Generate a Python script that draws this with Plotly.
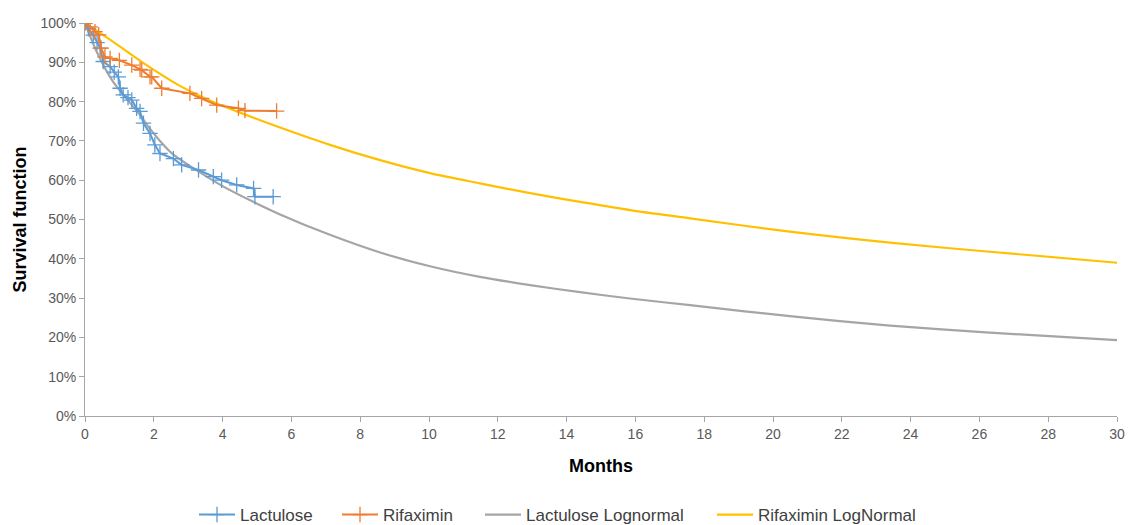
import plotly.graph_objects as go

# Kaplan-Meier: Lactulose
lac_months = [0, 0.1, 0.24, 0.35, 0.44, 0.53, 0.73, 0.85, 0.97, 1.02, 1.11, 1.25, 1.36, 1.5, 1.6, 1.7, 1.89, 2.03, 2.18, 2.57, 2.81, 3.3, 3.73, 3.97, 4.41, 4.9, 4.94, 5.47]
lac_surv = [1.0, 0.985, 0.969, 0.95, 0.936, 0.902, 0.889, 0.875, 0.863, 0.834, 0.817, 0.81, 0.804, 0.783, 0.775, 0.745, 0.719, 0.69, 0.668, 0.655, 0.639, 0.626, 0.609, 0.60, 0.588, 0.579, 0.558, 0.558]

# Kaplan-Meier: Rifaximin
rif_months = [0, 0.15, 0.29, 0.4, 0.47, 0.58, 0.73, 1.0, 1.36, 1.6, 1.65, 1.89, 1.94, 2.23, 3.05, 3.39, 3.83, 4.46, 4.65, 5.57]
rif_surv = [1.0, 0.99, 0.978, 0.97, 0.936, 0.914, 0.91, 0.905, 0.893, 0.882, 0.88, 0.863, 0.863, 0.834, 0.821, 0.808, 0.791, 0.783, 0.777, 0.776]

# Lognormal fits
lacln_months = [0, 0.34, 0.82, 1.6, 1.79, 2.18, 2.57, 3.25, 4.0, 4.89, 5.67, 7.12, 8.58, 10.03, 11.48, 12.94, 14.39, 15.84, 17.59, 20.49, 23.4, 26.3, 30]
lacln_surv = [1.0, 0.927, 0.85, 0.766, 0.742, 0.70, 0.665, 0.625, 0.585, 0.545, 0.513, 0.461, 0.416, 0.381, 0.354, 0.333, 0.315, 0.299, 0.282, 0.254, 0.23, 0.212, 0.193]

rifln_months = [0, 0.82, 1.79, 2.76, 3.25, 3.83, 4.5, 5.67, 7.12, 8.58, 10.03, 11.48, 12.94, 14.39, 15.84, 17.59, 20.49, 23.4, 26.3, 30]
rifln_surv = [1.0, 0.952, 0.893, 0.84, 0.818, 0.795, 0.772, 0.734, 0.69, 0.651, 0.618, 0.592, 0.567, 0.545, 0.524, 0.503, 0.469, 0.441, 0.418, 0.39]

x_ticks = list(range(0, 31, 2))
y_ticks = [i / 10 for i in range(0, 11)]

BLUE = "#5B9BD5"
ORANGE = "#ED7D31"
GRAY = "#A5A5A5"
GOLD = "#FFC000"
FONT = "Liberation Sans"
W, H = 1128, 525

fig = go.Figure()
fig.add_trace(go.Scatter(x=lacln_months, y=lacln_surv, mode="lines", name="Lactulose Lognormal",
                         line=dict(color=GRAY, width=2.2, shape="spline", smoothing=0.8), legend="legend3"))
fig.add_trace(go.Scatter(x=rifln_months, y=rifln_surv, mode="lines", name="Rifaximin LogNormal",
                         line=dict(color=GOLD, width=2.2, shape="spline", smoothing=0.8), legend="legend4"))
fig.add_trace(go.Scatter(x=lac_months, y=lac_surv, mode="lines+markers", name="Lactulose",
                         line=dict(color=BLUE, width=2),
                         marker=dict(symbol="cross-thin", size=11, line=dict(color=BLUE, width=1.3)),
                         legend="legend"))
fig.add_trace(go.Scatter(x=rif_months, y=rif_surv, mode="lines+markers", name="Rifaximin",
                         line=dict(color=ORANGE, width=2),
                         marker=dict(symbol="cross-thin", size=11, line=dict(color=ORANGE, width=1.3)),
                         legend="legend2"))


def leg(px_left):
    return dict(orientation="h", xref="container", yref="container",
                x=(px_left - 8) / W, xanchor="left", y=(H - 515) / H, yanchor="middle",
                font=dict(family=FONT, size=17, color="#404040"),
                itemwidth=36, bgcolor="rgba(0,0,0,0)")


fig.update_layout(
    width=W, height=H,
    margin=dict(l=85, r=11, t=23, b=109),
    plot_bgcolor="white", paper_bgcolor="white",
    font=dict(family=FONT, size=14, color="#595959"),
    showlegend=True,
    legend=leg(202), legend2=leg(345), legend3=leg(488), legend4=leg(720),
    xaxis=dict(range=[0, 30], tickvals=x_ticks, ticks="outside", ticklen=5, tickcolor="#A6A6A6",
               showline=True, linecolor="#A6A6A6", linewidth=1, showgrid=False, zeroline=False,
               automargin=False,
               title=dict(text="<b>Months</b>", font=dict(family=FONT, size=18, color="#000000"), standoff=18)),
    yaxis=dict(range=[0, 1.0], tickvals=y_ticks, tickformat=".0%", ticks="outside", ticklen=5, tickcolor="#A6A6A6",
               showline=True, linecolor="#A6A6A6", linewidth=1, showgrid=False, zeroline=False,
               automargin=False,
               title=dict(text="<b>Survival function</b>", font=dict(family=FONT, size=18, color="#000000"), standoff=9)),
)

fig.write_html("out.html", config={"displayModeBar": False},
               post_script="document.body.style.margin='0px';")
